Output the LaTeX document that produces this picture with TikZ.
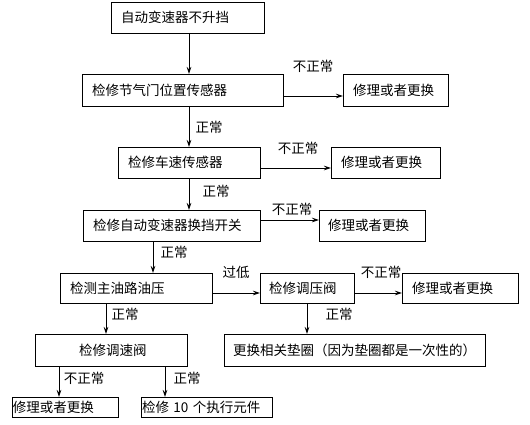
\documentclass[tikz,border=0pt]{standalone}
\usepackage{fontspec}
\setmainfont{Noto Sans CJK SC}
\usetikzlibrary{arrows.meta,calc}
\tikzset{
  bx/.style n args={4}{draw, line width=0.8pt, inner xsep=0pt, inner ysep=0pt, outer sep=0pt,
    text width=#1pt, minimum height=#2pt, align=left, anchor=north west,
    execute at begin node={\hspace*{#3pt}}, font=\fontsize{13.5}{15}\selectfont},
  lbl/.style={inner sep=0pt, outer sep=0pt, font=\fontsize{13.5}{15}\selectfont},
  arr/.style={line width=0.8pt, -{Stealth[length=7pt,width=4.5pt]}}
}
\begin{document}
\begin{tikzpicture}[x=1pt,y=-1pt]
\useasboundingbox (0,0) rectangle (530,425);
% boxes
\node[bx={153}{31}{10}{}] (b1) at (111,2) {自动变速器不升挡};
\node[bx={201}{32}{10}{}] (b2) at (82,74) {检修节气门位置传感器};
\node[bx={105}{32}{10}{}] (r1) at (343,74) {修理或者更换};
\node[bx={142}{31}{10}{}] (b3) at (118,147) {检修车速传感器};
\node[bx={109}{31}{10}{}] (r2) at (331,147) {修理或者更换};
\node[bx={177}{31}{10}{}] (b4) at (83,210) {检修自动变速器换挡开关};
\node[bx={106}{31}{9}{}] (r3) at (319,210) {修理或者更换};
\node[bx={152}{30}{10}{}] (b5) at (60,273) {检测主油路油压};
\node[bx={94}{30}{9}{}] (b6) at (260,273) {检修调压阀};
\node[bx={116}{30}{10}{}] (r4) at (402,273) {修理或者更换};
\node[bx={152}{32}{44}{}] (b7) at (35,334) {检修调速阀};
\node[bx={261}{32}{9}{}] (b8) at (224,334) {更换相关垫圈（因为垫圈都是一次性的）};
\node[bx={106}{20}{1}{}] (b9) at (12,397) {修理或者更换};
\node[bx={131}{20}{1}{}] (b10) at (141,397) {检修 10 个执行元件};
% connectors
\draw[arr] ($(b1.south west)+(78,0)$) -- ($(b2.north west)+(107,0)$);
\draw[arr] ($(b2.north east)+(0,22)$) -- ($(r1.north west)+(0,22)$);
\draw[arr] ($(b2.south west)+(107,0)$) -- ($(b3.north west)+(71,0)$);
\draw[arr] ($(b3.north east)+(0,21)$) -- ($(r2.north west)+(0,21)$);
\draw[arr] ($(b3.south west)+(71,0)$) -- ($(b4.north west)+(106,0)$);
\draw[arr] ($(b4.north east)+(0,10)$) -- ($(r3.north west)+(0,10)$);
\draw[arr] ($(b4.south west)+(70,0)$) -- ($(b5.north west)+(93,0)$);
\draw[arr] ($(b5.north east)+(0,20)$) -- ($(b6.north west)+(0,20)$);
\draw[arr] ($(b6.north east)+(0,20)$) -- ($(r4.north west)+(0,20)$);
\draw[arr] ($(b5.south west)+(46,0)$) -- ($(b7.north west)+(71,0)$);
\draw[arr] ($(b6.south west)+(47,0)$) -- ($(b8.north west)+(83,0)$);
\draw[arr] ($(b7.south west)+(24,0)$) -- ($(b9.north west)+(47,0)$);
\draw[arr] ($(b7.south west)+(130,0)$) -- ($(b10.north west)+(24,0)$);
% labels
\node[lbl] (l1) at (313,66) {不正常};
\node[lbl] (l2) at (209,127) {正常};
\node[lbl] (l3) at (298,148) {不正常};
\node[lbl] (l4) at (216,191) {正常};
\node[lbl] (l5) at (292,209) {不正常};
\node[lbl] (l6) at (174,252) {正常};
\node[lbl] (l7) at (236,272) {过低};
\node[lbl] (l8) at (381,272) {不正常};
\node[lbl] (l9) at (125,314) {正常};
\node[lbl] (l10) at (339,314) {正常};
\node[lbl] (l11) at (84,378) {不正常};
\node[lbl] (l12) at (187,378) {正常};
\end{tikzpicture}
\end{document}
